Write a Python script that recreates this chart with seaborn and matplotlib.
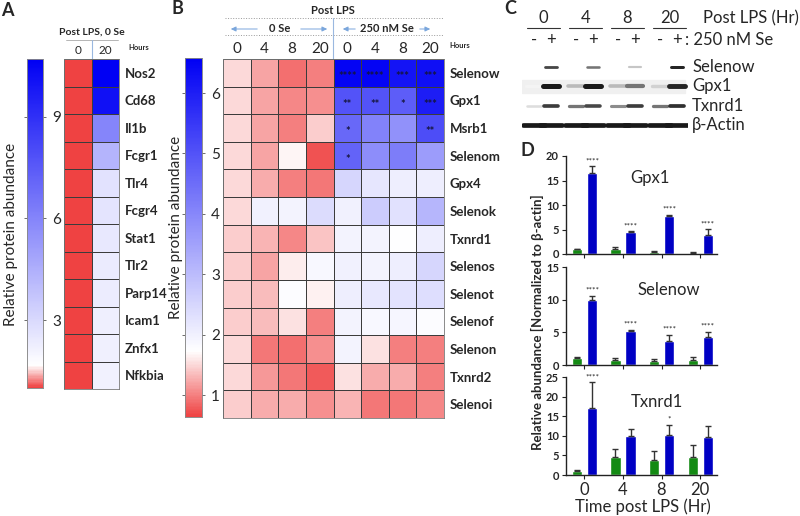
import numpy as np
import pandas as pd
import matplotlib
matplotlib.use("Agg")
import matplotlib.pyplot as plt
import seaborn as sns
from matplotlib.colors import LinearSegmentedColormap

sns.set_theme(style="white")
plt.rcParams["font.family"] = ["Lato", "DejaVu Sans"]

# ---------------- data ----------------
# Panel A
a_genes = ["Nos2", "Cd68", "Il1b", "Fcgr1", "Tlr4", "Fcgr4", "Stat1", "Tlr2",
           "Parp14", "Icam1", "Znfx1", "Nfkbia"]
a_hours = ["0", "20"]
a_h0 = [1.0] * 12
a_h20 = [10.7, 10.1, 6.0, 4.3, 2.7, 2.6, 2.5, 2.4, 2.35, 2.25, 2.2, 2.15]
a_ticks = [3, 6, 9]

# Panel B
b_genes = ["Selenow", "Gpx1", "Msrb1", "Selenom", "Gpx4", "Selenok", "Txnrd1",
           "Selenos", "Selenot", "Selenof", "Selenon", "Txnrd2", "Selenoi"]
b_hours = ["0", "4", "8", "20", "0", "4", "8", "20"]
b_ctrl_h0 = [1.5, 1.5, 1.5, 1.5, 1.5, 1.5, 1.45, 1.45, 1.45, 1.45, 1.5, 1.5, 1.45]
b_ctrl_h4 = [1.2, 1.2, 1.2, 1.2, 1.25, 2.0, 1.3, 1.2, 1.35, 1.35, 0.95, 1.15, 1.25]
b_ctrl_h8 = [0.9, 1.05, 1.0, 1.68, 1.0, 1.95, 1.05, 1.62, 1.8, 1.55, 0.9, 0.95, 1.25]
b_ctrl_h20 = [1.0, 1.1, 1.45, 0.75, 0.95, 2.4, 1.4, 1.85, 1.65, 1.0, 1.1, 0.78, 1.1]
b_se_h0 = [6.5, 5.0, 4.6, 4.7, 2.5, 2.0, 1.95, 2.0, 2.05, 1.95, 1.95, 1.55, 1.3]
b_se_h4 = [6.5, 5.0, 4.1, 3.9, 2.2, 2.7, 1.95, 1.95, 2.15, 1.85, 1.55, 1.25, 0.95]
b_se_h8 = [6.2, 4.8, 3.8, 4.2, 2.05, 2.3, 1.75, 2.05, 2.25, 1.9, 1.0, 1.25, 0.95]
b_se_h20 = [6.3, 6.0, 5.1, 3.6, 2.05, 3.1, 2.05, 2.5, 2.35, 1.8, 1.0, 1.0, 1.05]
b_stars_se = [["****", "****", "***", "***"],
              ["**", "**", "*", "***"],
              ["*", "", "", "**"],
              ["*", "", "", ""]] + [["", "", "", ""]] * 9
b_ticks = [1, 2, 3, 4, 5, 6]

# Panel C (band intensities per lane: -,+ for 0,4,8,20 h)
c_groups = ["0", "4", "8", "20"]
c_se = ["-", "+"]
c_proteins = ["Selenow", "Gpx1", "Txnrd1", "β-Actin"]
c_selenow = [0.0, 0.8, 0.0, 0.6, 0.0, 0.25, 0.0, 0.95]
c_gpx1 = [0.05, 1.0, 0.3, 1.0, 0.3, 0.6, 0.2, 0.95]
c_txnrd1 = [0.15, 0.85, 0.6, 0.8, 0.5, 0.85, 0.6, 0.9]
c_actin = [1.0, 1.0, 1.0, 1.0, 1.0, 1.0, 1.0, 1.0]

# Panel D
d_times = ["0", "4", "8", "20"]
d_gpx1_ctrl = [1.0, 1.0, 0.4, 0.3]
d_gpx1_ctrl_err = [0.1, 0.35, 0.3, 0.15]
d_gpx1_se = [16.5, 4.5, 7.7, 3.9]
d_gpx1_se_err = [1.4, 0.15, 0.3, 1.2]
d_gpx1_stars = ["****", "****", "****", "****"]
d_selenow_ctrl = [1.0, 0.8, 0.6, 0.7]
d_selenow_ctrl_err = [0.15, 0.3, 0.3, 0.45]
d_selenow_se = [10.0, 5.2, 3.7, 4.3]
d_selenow_se_err = [0.6, 0.2, 0.9, 0.8]
d_selenow_stars = ["****", "****", "****", "****"]
d_txnrd1_ctrl = [1.0, 4.7, 3.8, 4.6]
d_txnrd1_ctrl_err = [0.3, 2.0, 2.4, 3.1]
d_txnrd1_se = [17.0, 9.9, 10.1, 9.6]
d_txnrd1_se_err = [6.7, 1.9, 2.7, 3.0]
d_txnrd1_stars = ["****", "", "*", ""]

# ---------------- figure ----------------
W, H = 800, 516
fig = plt.figure(figsize=(W / 100, H / 100), dpi=100)


def ax_px(x0, y0, x1, y1, **kw):
    return fig.add_axes([x0 / W, 1 - y1 / H, (x1 - x0) / W, (y1 - y0) / H], **kw)


ov = ax_px(0, 0, W, H)
ov.set_xlim(0, W)
ov.set_ylim(H, 0)
ov.axis("off")

RED = "#EF4242"
BLUE = "#0000F4"


def make_cmap(vmin, vwhite, vmax):
    f = (vwhite - vmin) / (vmax - vmin)
    return LinearSegmentedColormap.from_list("rwb", [(0, RED), (f, "#FFFFFF"), (1, BLUE)])


def style_cbar(cax, ticks):
    cax.set_yticks(ticks)
    cax.set_yticklabels([str(t) for t in ticks], fontsize=11)
    cax.tick_params(axis="y", left=True, right=True, labelleft=False, labelright=True,
                    direction="inout", length=5, width=0.6, color="#555555", pad=4)
    for s in cax.spines.values():
        s.set_visible(True)
        s.set_linewidth(0.5)
        s.set_edgecolor("#888888")


# ---------- Panel A ----------
a_vmin, a_vmax = 1.0, 10.7
df_a = pd.DataFrame({"0": a_h0, "20": a_h20}, index=a_genes)
axA = ax_px(64, 59, 119, 389)
caxA = ax_px(27, 59, 43, 388)
sns.heatmap(df_a, ax=axA, cbar_ax=caxA, cmap=make_cmap(a_vmin, 1.65, a_vmax),
            vmin=a_vmin, vmax=a_vmax, linewidths=0.6, linecolor="#3c3c3c")
axA.xaxis.tick_top()
axA.set_xticklabels(a_hours, fontsize=8.5)
axA.tick_params(axis="x", length=0, pad=2)
axA.yaxis.tick_right()
axA.set_yticklabels(a_genes, rotation=0, fontsize=9.5, fontweight="bold")
axA.tick_params(axis="y", length=0, pad=4)
axA.set_xlabel("")
axA.set_ylabel("")
for s in axA.spines.values():
    s.set_visible(True)
    s.set_linewidth(0.6)
    s.set_edgecolor("#777777")
style_cbar(caxA, a_ticks)

ov.text(7, 10, "A", fontsize=13, fontweight="bold", ha="center", va="center")
ov.text(92, 32, "Post LPS, 0 Se", fontsize=7.5, fontweight="bold", ha="center", va="center")
ov.plot([66, 118], [40, 40], color="#aaaaaa", lw=0.6)
ov.plot([92, 92], [40, 59], color="#9ab8e0", lw=0.8)
ov.text(139, 47, "Hours", fontsize=5.5, fontweight="bold", ha="center", va="center")
ov.text(11, 234, "Relative protein abundance", fontsize=11, rotation=90,
        ha="center", va="center")

# ---------- Panel B ----------
b_vmin, b_vmax = 0.64, 6.58
b_cols = [b_ctrl_h0, b_ctrl_h4, b_ctrl_h8, b_ctrl_h20, b_se_h0, b_se_h4, b_se_h8, b_se_h20]
b_mat = np.array(b_cols).T
b_annot = np.array([["", "", "", ""] + r for r in b_stars_se])
axB = ax_px(223, 59, 444, 418)
caxB = ax_px(185, 58, 202, 417)
sns.heatmap(b_mat, ax=axB, cbar_ax=caxB, cmap=make_cmap(b_vmin, 1.72, b_vmax),
            vmin=b_vmin, vmax=b_vmax, linewidths=0.6, linecolor="#3c3c3c",
            annot=b_annot, fmt="", annot_kws={"fontsize": 8, "color": "#15153a",
                                              "fontweight": "bold"})
for t in axB.texts:
    x, y = t.get_position()
    t.set_position((x, y + 0.14))
axB.xaxis.tick_top()
axB.set_xticklabels(b_hours, fontsize=11)
axB.tick_params(axis="x", length=0, pad=2)
axB.yaxis.tick_right()
axB.set_yticklabels(b_genes, rotation=0, fontsize=9.5, fontweight="bold")
axB.tick_params(axis="y", length=0, pad=4)
for s in axB.spines.values():
    s.set_visible(True)
    s.set_linewidth(0.6)
    s.set_edgecolor("#777777")
style_cbar(caxB, b_ticks)

ov.text(177, 8, "B", fontsize=13, fontweight="bold", ha="center", va="center")
ov.text(333, 11, "Post LPS", fontsize=8, fontweight="bold", ha="center", va="center")
ov.plot([225, 443], [18, 18], color="#999999", lw=0.7, ls=":")
ov.plot([225, 443], [35, 35], color="#999999", lw=0.7, ls=":")
ov.plot([333, 333], [18, 59], color="#9ab8e0", lw=0.8)
ov.text(280, 29, "0 Se", fontsize=8, fontweight="bold", ha="center", va="center")
ov.text(387, 29, "250 nM Se", fontsize=8, fontweight="bold", ha="center", va="center")
arrow_kw = dict(arrowstyle="-|>,head_length=0.25,head_width=0.12", color="#7aa6dc", lw=0.7)
for (xa, xb) in [(260, 228), (298, 330), (358, 340), (417, 433)]:
    ov.annotate("", xy=(xb, 29), xytext=(xa, 29), arrowprops=arrow_kw)
ov.text(460, 46, "Hours", fontsize=5.5, fontweight="bold", ha="center", va="center")
ov.text(176, 227, "Relative protein abundance", fontsize=11, rotation=90,
        ha="center", va="center")

# ---------- Panel C ----------
axC = ax_px(522, 58, 688, 134)
axC.set_xlim(-0.285, 3.66)
axC.set_ylim(3.47, -0.47)
axC.axis("off")
lane_x = [g + 0.4 * s for g in range(len(c_groups)) for s in range(len(c_se))]
bands = [c_selenow, c_gpx1, c_txnrd1, c_actin]
half_w = [0.15, 0.19, 0.17, 0.26]
thick = [2.2, 3.6, 2.8, 3.4]
axC.axhspan(0.67, 1.33, xmin=0.0, xmax=0.98, color="#f0f0f0", zorder=0)
for r, inten in enumerate(bands):
    for x, v in zip(lane_x, inten):
        if v <= 0:
            continue
        g = 1 - 0.9 * v
        axC.plot([x - half_w[r], x + half_w[r]], [r, r], color=(g, g, g),
                 lw=thick[r] * (0.6 + 0.4 * v), solid_capstyle="round", zorder=2)
    axC.text(3.76, r, c_proteins[r], fontsize=12, ha="left", va="center", clip_on=False)
for g, lab in enumerate(c_groups):
    axC.text(g + 0.22, -2.55, lab, fontsize=12, ha="center", va="center", clip_on=False)
    axC.plot([g - 0.17, g + 0.62], [-2.05, -2.05], color="#333333", lw=0.8, clip_on=False)
for x, s in zip(lane_x, c_se * len(c_groups)):
    axC.text(x, -1.4, s, fontsize=12, ha="center", va="center", clip_on=False)
axC.text(3.59, -1.4, ": 250 nM Se", fontsize=12, ha="left", va="center", clip_on=False)
axC.text(4.02, -2.55, "Post LPS (Hr)", fontsize=12, ha="left", va="center", clip_on=False)
ov.text(510, 8, "C", fontsize=13, fontweight="bold", ha="center", va="center")

# ---------- Panel D ----------
GREEN = "#138A13"
DBLUE = "#0000C4"
d_sets = [
    ("Gpx1", d_gpx1_ctrl, d_gpx1_ctrl_err, d_gpx1_se, d_gpx1_se_err, d_gpx1_stars,
     (156, 254), 20, [0, 5, 10, 15, 20], (0.556, 0.78)),
    ("Selenow", d_selenow_ctrl, d_selenow_ctrl_err, d_selenow_se, d_selenow_se_err,
     d_selenow_stars, (267, 365), 15, [0, 5, 10, 15], (0.68, 0.77)),
    ("Txnrd1", d_txnrd1_ctrl, d_txnrd1_ctrl_err, d_txnrd1_se, d_txnrd1_se_err,
     d_txnrd1_stars, (377, 475), 25, [0, 5, 10, 15, 20, 25], (0.6, 0.745)),
]
for i, (name, c, ce, s, se, stars, (y0, y1), ymax, yt, tpos) in enumerate(d_sets):
    ax = ax_px(566, y0, 717, y1)
    df = pd.DataFrame({"time": d_times * 2,
                       "treat": ["0 Se"] * 4 + ["250 nM Se"] * 4,
                       "val": c + s})
    sns.barplot(data=df, x="time", y="val", hue="treat", order=d_times,
                palette=[GREEN, DBLUE], width=0.78, gap=0.33, errorbar=None,
                legend=False, ax=ax, saturation=1)
    patches = [p for p in ax.patches if p.get_width() > 0][:8]
    errs = ce + se
    labels = [""] * 4 + stars
    for p, e, lab in zip(patches, errs, labels):
        xc = p.get_x() + p.get_width() / 2
        h = p.get_height()
        ax.errorbar(xc, h, yerr=[[0], [e]], fmt="none", ecolor="#333333",
                    elinewidth=1.0, capsize=2, capthick=1.0)
        if lab:
            ax.text(xc, h + e + ymax * 0.02, lab, fontsize=6, ha="center", va="bottom")
    ax.set_xlim(-0.48, 3.44)
    ax.set_ylim(0, ymax)
    ax.set_yticks(yt)
    ax.set_yticklabels([str(t) for t in yt], fontsize=8, fontweight="bold")
    ax.set_xlabel("")
    ax.set_ylabel("")
    sns.despine(ax=ax)
    for sp in ["left", "bottom"]:
        ax.spines[sp].set_color("#222222")
        ax.spines[sp].set_linewidth(1.0)
    ax.tick_params(axis="both", direction="out", length=3, width=0.8, color="#222222",
                   left=True, bottom=True, pad=2)
    if i < 2:
        ax.set_xticklabels([])
    else:
        ax.set_xticklabels(d_times, fontsize=12)
    ax.text(tpos[0], tpos[1], name, transform=ax.transAxes, fontsize=12,
            ha="center", va="center")

ov.text(527, 150, "D", fontsize=13, fontweight="bold", ha="center", va="center")
ov.text(537, 322, "Relative abundance [Normalized to β-actin]", fontsize=9.5,
        fontweight="bold", rotation=90, ha="center", va="center")
ov.text(643, 507, "Time post LPS (Hr)", fontsize=12, ha="center", va="center")

fig.savefig("out.png", dpi=100)
